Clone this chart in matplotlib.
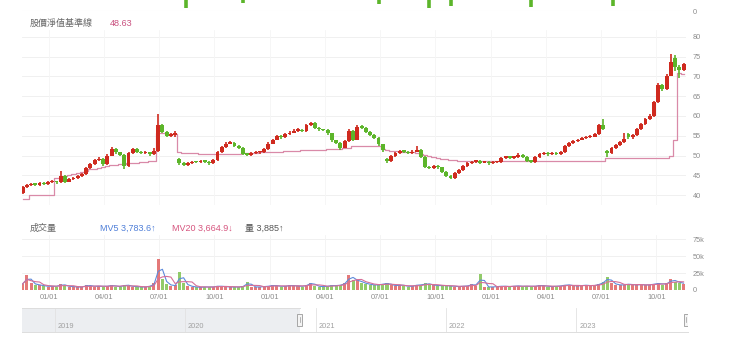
import numpy as np
import pandas as pd
import matplotlib
matplotlib.use('Agg')
import matplotlib.pyplot as plt
import matplotlib.dates as mdates
from matplotlib.patches import Rectangle

plt.rcParams['font.family'] = ['Liberation Sans', 'Noto Sans CJK TC', 'DejaVu Sans']

# ---------------- data (weekly) ----------------
week_start = '2020-11-18'

opens = [40.6, 42.0, 42.5, 42.8, 42.6, 43.0, 42.8, 43.2, 43.4, 43.2,
         44.8, 43.4, 44.0, 44.3, 44.8, 45.2, 46.8, 47.8, 48.8, 49.2,
         47.8, 50.0, 51.6, 50.8, 50.2, 47.4, 50.6, 51.6, 51.0, 50.6,
         50.8, 50.3, 51.2, 57.6, 56.0, 55.0, 55.2, 49.0, 48.2, 47.6,
         48.0, 48.4, 48.3, 48.6, 48.4, 48.0, 48.8, 50.8, 52.2, 53.0,
         53.2, 52.5, 52.0, 50.4, 50.2, 50.6, 50.8, 50.8, 51.6, 53.0,
         54.0, 55.0, 54.6, 55.4, 55.8, 56.3, 56.5, 56.2, 57.6, 58.3,
         57.0, 56.6, 56.4, 55.6, 53.8, 53.2, 52.0, 53.6, 56.2, 54.0,
         57.2, 57.0, 56.0, 55.2, 54.4, 52.8, 49.2, 48.6, 49.8, 50.6,
         51.2, 51.0, 50.6, 51.0, 51.4, 49.6, 47.2, 46.8, 47.4, 47.0,
         45.8, 44.8, 44.3, 45.6, 46.4, 47.4, 48.0, 48.4, 48.6, 48.2,
         48.4, 48.0, 48.3, 48.4, 49.4, 49.6, 49.4, 49.6, 50.2, 49.6,
         48.6, 48.4, 49.6, 50.4, 50.6, 50.3, 50.6, 50.4, 50.8, 52.4,
         53.2, 53.6, 54.0, 54.4, 54.6, 54.8, 55.4, 57.6, 51.2, 50.6,
         51.8, 52.6, 53.4, 55.4, 54.6, 55.2, 56.6, 58.0, 59.2, 60.0,
         63.5, 67.8, 66.8, 70.2, 74.6, 72.4, 71.6]
closes = [42.0, 42.5, 42.8, 42.6, 43.0, 42.8, 43.2, 43.4, 43.2, 44.8,
          43.4, 44.0, 44.3, 44.8, 45.2, 46.8, 47.8, 48.8, 49.2, 47.8,
          50.0, 51.6, 50.8, 50.2, 47.4, 50.6, 51.6, 51.0, 50.6, 50.8,
          50.3, 51.2, 57.6, 56.0, 55.0, 55.2, 55.8, 48.2, 47.6, 48.0,
          48.4, 48.3, 48.6, 48.4, 48.0, 48.8, 50.8, 52.2, 53.0, 53.2,
          52.5, 52.0, 50.4, 50.2, 50.6, 50.8, 50.8, 51.6, 53.0, 54.0,
          55.0, 54.6, 55.4, 55.8, 56.3, 56.5, 56.2, 57.6, 58.3, 57.0,
          56.6, 56.4, 55.6, 53.8, 53.2, 52.0, 53.6, 56.2, 54.0, 57.2,
          57.0, 56.0, 55.2, 54.4, 52.8, 51.4, 48.6, 49.8, 50.6, 51.2,
          51.0, 50.6, 51.0, 51.4, 49.6, 47.2, 46.8, 47.4, 47.0, 45.8,
          44.8, 44.3, 45.6, 46.4, 47.4, 48.0, 48.4, 48.6, 48.2, 48.4,
          48.0, 48.3, 48.4, 49.4, 49.6, 49.4, 49.6, 50.2, 49.6, 48.6,
          48.4, 49.6, 50.4, 50.6, 50.3, 50.6, 50.4, 50.8, 52.4, 53.2,
          53.6, 54.0, 54.4, 54.6, 54.8, 55.4, 57.6, 56.8, 50.6, 51.8,
          52.6, 53.4, 54.2, 54.6, 55.2, 56.6, 58.0, 59.2, 60.0, 63.5,
          67.8, 66.8, 70.2, 73.6, 72.4, 71.6, 73.2]
highs = [42.3, 42.8, 43.1, 43.0, 43.3, 43.2, 43.5, 43.7, 43.6, 46.2,
         45.0, 44.3, 44.6, 45.1, 45.5, 47.1, 48.1, 49.1, 49.6, 49.3,
         50.3, 52.1, 51.9, 51.0, 50.4, 50.9, 51.9, 51.8, 51.2, 51.1,
         51.0, 52.0, 60.6, 57.9, 56.2, 55.6, 56.2, 49.3, 48.4, 48.3,
         48.7, 48.7, 48.9, 48.8, 48.6, 49.1, 51.1, 52.5, 53.3, 53.6,
         53.4, 52.7, 52.1, 50.6, 50.9, 51.1, 51.1, 51.9, 53.3, 54.3,
         55.3, 55.2, 55.7, 56.1, 56.6, 56.9, 56.8, 57.9, 58.6, 58.4,
         57.2, 56.8, 56.6, 55.7, 54.0, 53.4, 53.9, 56.6, 56.4, 57.7,
         57.6, 57.1, 56.2, 55.4, 54.6, 53.0, 49.4, 50.1, 50.9, 51.5,
         51.4, 51.2, 51.3, 52.5, 51.6, 49.8, 47.4, 47.7, 47.6, 47.2,
         46.0, 45.0, 45.9, 46.7, 47.7, 48.3, 48.7, 48.9, 48.8, 48.7,
         48.6, 48.6, 48.7, 49.7, 49.9, 49.8, 49.9, 50.6, 50.4, 49.8,
         48.8, 49.9, 50.7, 50.9, 50.8, 50.9, 50.8, 51.1, 52.7, 53.5,
         53.9, 54.3, 54.7, 54.9, 55.1, 55.7, 57.9, 59.3, 51.5, 52.1,
         52.9, 53.7, 55.8, 55.8, 55.5, 56.9, 58.3, 59.6, 60.4, 63.9,
         68.3, 68.0, 70.6, 75.6, 75.4, 72.8, 73.5]
lows = [40.3, 41.8, 42.3, 42.3, 42.4, 42.5, 42.6, 43.0, 42.9, 43.0,
        43.1, 43.2, 43.8, 44.1, 44.6, 45.0, 46.6, 47.6, 48.5, 47.4,
        47.6, 49.8, 50.5, 49.8, 46.5, 47.2, 50.4, 50.7, 50.3, 50.4,
        50.0, 50.1, 51.0, 55.6, 54.7, 54.8, 54.6, 47.6, 47.3, 47.4,
        47.8, 48.0, 48.1, 48.1, 47.7, 47.8, 48.6, 50.6, 52.0, 52.8,
        52.2, 51.7, 50.1, 49.9, 50.0, 50.4, 50.5, 50.6, 51.4, 52.8,
        53.8, 54.3, 54.4, 55.2, 55.6, 56.0, 55.9, 56.0, 57.4, 56.8,
        56.3, 56.1, 55.3, 53.5, 52.9, 51.5, 51.8, 53.4, 53.6, 53.8,
        56.7, 55.7, 54.9, 54.1, 52.5, 51.0, 48.2, 48.4, 49.6, 50.4,
        50.7, 50.3, 50.4, 50.8, 49.3, 46.8, 46.5, 46.6, 46.7, 45.5,
        44.5, 44.0, 44.1, 45.4, 46.2, 47.2, 47.8, 48.2, 47.9, 48.0,
        47.7, 47.8, 48.1, 48.2, 49.2, 49.1, 49.2, 49.4, 49.3, 48.3,
        48.1, 48.2, 49.4, 50.2, 50.0, 50.1, 50.1, 50.2, 50.6, 52.2,
        53.0, 53.4, 53.8, 54.2, 54.4, 54.6, 55.2, 56.5, 49.6, 50.4,
        51.6, 52.4, 53.2, 54.2, 54.3, 55.0, 56.4, 57.8, 59.0, 59.8,
        63.3, 66.3, 66.6, 70.0, 71.4, 69.5, 71.4]
base_line = [39.1, 39.1, 39.9, 39.9, 39.9, 39.9, 39.9, 39.9, 44.4, 44.6,
             44.8, 45.0, 45.3, 45.6, 45.9, 46.2, 46.5, 46.7, 46.9, 47.1,
             47.3, 47.5, 47.7, 47.8, 47.9, 48.0, 48.1, 48.2, 48.3, 48.4,
             48.5, 48.6, 55.6, 55.6, 55.5, 55.5, 55.5, 50.8, 50.7, 50.7,
             50.6, 50.6, 50.5, 50.5, 50.5, 50.4, 50.4, 50.4, 50.4, 50.4,
             50.5, 50.5, 50.6, 50.6, 50.7, 50.7, 50.8, 50.8, 50.9, 50.9,
             51.0, 51.0, 51.1, 51.1, 51.2, 51.2, 51.3, 51.3, 51.4, 51.4,
             51.5, 51.5, 51.6, 51.6, 51.7, 51.7, 51.8, 51.8, 52.3, 52.3,
             52.3, 52.3, 52.3, 52.3, 52.3, 51.6, 51.3, 51.2, 51.1, 51.0,
             51.0, 50.9, 50.8, 50.6, 50.4, 50.1, 49.8, 49.5, 49.3, 49.1,
             49.0, 48.9, 48.8, 48.7, 48.7, 48.7, 48.7, 48.7, 48.7, 48.7,
             48.7, 48.7, 48.7, 48.7, 48.7, 48.7, 48.7, 48.7, 48.7, 48.7,
             48.7, 48.6, 48.6, 48.6, 48.6, 48.6, 48.6, 48.6, 48.6, 48.6,
             48.6, 48.6, 48.6, 48.6, 48.6, 48.6, 48.6, 48.6, 49.3, 49.3,
             49.3, 49.3, 49.3, 49.3, 49.3, 49.3, 49.3, 49.3, 49.3, 49.3,
             49.3, 49.4, 49.4, 50.0, 53.8, 70.8, 70.6]
volume_k = [9, 22, 10, 8, 7, 6, 5, 6, 5, 9,
            6, 5, 5, 4, 5, 7, 6, 5, 6, 5,
            6, 7, 5, 5, 8, 6, 5, 5, 4, 5,
            6, 10, 45, 16, 9, 6, 7, 26, 10, 6,
            5, 4, 4, 5, 4, 5, 6, 5, 5, 4,
            5, 4, 6, 12, 5, 4, 5, 5, 6, 7,
            6, 5, 6, 7, 6, 6, 5, 8, 11, 6,
            5, 5, 6, 7, 6, 8, 10, 22, 15, 14,
            11, 9, 8, 7, 8, 9, 10, 7, 6, 8,
            6, 5, 6, 8, 7, 10, 8, 7, 6, 7,
            6, 6, 5, 5, 6, 6, 9, 6, 23, 5,
            4, 5, 5, 6, 5, 5, 6, 6, 5, 6,
            5, 6, 7, 6, 5, 5, 6, 6, 8, 7,
            6, 6, 7, 7, 6, 7, 9, 12, 19, 10,
            8, 7, 8, 9, 7, 8, 8, 7, 8, 9,
            10, 8, 10, 16, 12, 11, 9]

price_ticks = [40, 45, 50, 55, 60, 65, 70, 75, 80]
vol_ticks = [0, 25, 50, 75]
vol_tick_labels = ['0', '25k', '50k', '75k']
date_ticks = ['2021-01-01', '2021-04-01', '2021-07-01', '2021-10-01',
              '2022-01-01', '2022-04-01', '2022-07-01', '2022-10-01',
              '2023-01-01', '2023-04-01', '2023-07-01', '2023-10-01']
date_tick_labels = ['01/01', '04/01', '07/01', '10/01'] * 3
nav_years = ['2019', '2020', '2021', '2022', '2023']

# fragments of the panel above (cut off at the top edge)
top_frag_week = [38.5, 52, 84, 96, 101, 120, 139.4]
top_frag_low = [3, 8, 7, 3, 5, 4, 5]

title_name = '股價淨值基準線'
title_value = '48.63'
vol_title = '成交量'
mv5_text = 'MV5 3,783.6↑'
mv20_text = 'MV20 3,664.9↓'
vol_text = '量 3,885↑'

# ---------------- layout ----------------
W, H = 740, 353
fig = plt.figure(figsize=(W / 100, H / 100), dpi=100)


def rect(x0, y0, x1, y1):
    return [x0 / W, 1 - y1 / H, (x1 - x0) / W, (y1 - y0) / H]


UP = '#cf2a1f'
DOWN = '#5cb52a'
PINK = '#d98aa8'
GRID = '#eeeeee'
TICKC = '#8c8c8c'

dates = pd.date_range(week_start, periods=len(closes), freq='7D')
xd = mdates.date2num(dates)
o = np.array(opens); c = np.array(closes)
h = np.array(highs); l = np.array(lows)
up = c >= o
cols = np.where(up, UP, DOWN)
xlim = (mdates.date2num(pd.Timestamp('2020-11-17')),
        mdates.date2num(pd.Timestamp('2023-11-19')))
tick_x = mdates.date2num(pd.to_datetime(date_ticks))

# top strip (bottom edge of the panel above)
ax_top = fig.add_axes(rect(22, 0, 686, 11))
ax_top.set_xlim(xlim)
ax_top.set_ylim(0, 11)
ax_top.axhline(0, color=GRID, lw=0.8)
fx = mdates.date2num(pd.Timestamp(week_start)) + np.array(top_frag_week) * 7
ax_top.vlines(fx, top_frag_low, 12, color=DOWN, lw=2.6)
ax_top.set_xticks([])
ax_top.yaxis.tick_right()
ax_top.set_yticks([0])
ax_top.set_yticklabels(['0'])
ax_top.tick_params(axis='y', length=0, pad=5, labelsize=5.3, labelcolor=TICKC)
for s in ax_top.spines.values():
    s.set_visible(False)
ax_top.patch.set_alpha(0)

# price panel
ax = fig.add_axes(rect(22, 30, 686, 205))
ax.set_xlim(xlim)
ax.set_ylim(37.47, 81.77)
for t in price_ticks:
    ax.axhline(t, color=GRID, lw=0.6, zorder=0)
for t in tick_x:
    ax.axvline(t, color='#f5f5f5', lw=0.6, zorder=0)
ax.plot(xd, base_line, drawstyle='steps-mid', color=PINK, lw=0.9, zorder=2)
ax.vlines(xd, l, h, color=cols, lw=1.2, zorder=3)
body_h = np.maximum(np.abs(c - o), 0.35)
ax.bar(xd, body_h, bottom=np.minimum(o, c), width=6.4, color=cols,
       linewidth=0, zorder=4)
ax.yaxis.tick_right()
ax.set_yticks(price_ticks)
ax.set_yticklabels([str(t) for t in price_ticks])
ax.set_xticks([])
ax.tick_params(axis='y', length=0, pad=5, labelsize=5.3, labelcolor=TICKC)
for s in ax.spines.values():
    s.set_visible(False)

# volume panel
axv = fig.add_axes(rect(22, 235, 686, 290))
axv.set_xlim(xlim)
axv.set_ylim(0, 80.9)
for t in vol_ticks:
    axv.axhline(t, color=GRID, lw=0.6, zorder=0)
for t in tick_x:
    axv.axvline(t, color='#f3f3f3', lw=0.6, zorder=0)
vol = pd.Series(volume_k, dtype=float)
vcols = np.where(up, '#e26a6a', '#86c65a')
axv.bar(xd, vol, width=5.0, color=vcols, linewidth=0, zorder=2, alpha=0.9)
mv5 = vol.rolling(2, min_periods=1).mean()
mv20 = vol.rolling(4, min_periods=1).mean()
axv.plot(xd, mv5, color='#5d8bdc', lw=0.8, zorder=3)
axv.plot(xd, mv20, color='#d66f98', lw=0.8, zorder=3)
axv.yaxis.tick_right()
axv.set_yticks(vol_ticks)
axv.set_yticklabels(vol_tick_labels)
axv.set_xticks(tick_x)
axv.set_xticklabels(date_tick_labels)
axv.tick_params(axis='y', length=0, pad=5, labelsize=5.3, labelcolor=TICKC)
axv.tick_params(axis='x', length=0, pad=3, labelsize=5.3, labelcolor=TICKC)
for s in axv.spines.values():
    s.set_visible(False)

# navigator
axn = fig.add_axes(rect(22, 308, 688, 332))
nav_lim = (mdates.date2num(pd.Timestamp('2018-10-01')),
           mdates.date2num(pd.Timestamp('2023-11-10')))
axn.set_xlim(nav_lim)
axn.set_ylim(0, 1)
sel0 = xlim[0]
axn.axvspan(nav_lim[0], sel0, color='#eceef1', zorder=0, lw=0)
for y in nav_years:
    yx = mdates.date2num(pd.Timestamp(y + '-01-01'))
    axn.axvline(yx, color='#e2e2e2', lw=0.6, zorder=1)
    axn.text(yx + 8, 0.25, y, fontsize=5.3, color='#a0a0a0', va='center', ha='left')
axn.set_xticks([]); axn.set_yticks([])
for side in ['left', 'right', 'top']:
    axn.spines[side].set_visible(False)
axn.spines['bottom'].set_color('#dddddd')
axn.spines['bottom'].set_linewidth(0.7)
axn.plot([nav_lim[0], sel0], [1, 1], color='#dddddd', lw=0.7)
px_day = (688 - 22) / (nav_lim[1] - nav_lim[0])
hw = 5 / px_day
for hx in [sel0, mdates.date2num(pd.Timestamp('2023-11-05'))]:
    axn.add_patch(Rectangle((hx - hw / 2, 0.26), hw, 0.5, facecolor='#f4f4f4',
                            edgecolor='#9a9a9a', lw=0.6, zorder=5))
    axn.plot([hx, hx], [0.4, 0.62], color='#9a9a9a', lw=0.5, zorder=6)


# texts
def ftext(x, y, s, **kw):
    fig.text(x / W, 1 - y / H, s, va='center', ha='left', **kw)


ftext(30, 23, title_name, fontsize=6.5, color='#666666')
ftext(110, 23, title_value, fontsize=6.5, color='#c9507f')
ftext(30, 228, vol_title, fontsize=6.5, color='#666666')
ftext(100, 228, mv5_text, fontsize=6.5, color='#4f7fd8')
ftext(172, 228, mv20_text, fontsize=6.5, color='#d6557f')
ftext(245, 228, vol_text, fontsize=6.5, color='#555555')

fig.savefig('out.png', dpi=100)
